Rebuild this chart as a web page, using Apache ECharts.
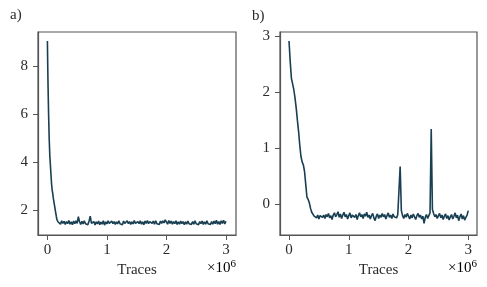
<!DOCTYPE html>
<html><head><meta charset="utf-8">
<script src="https://cdn.jsdelivr.net/npm/echarts@6/dist/echarts.min.js"></script>
<style>html,body{margin:0;padding:0;background:#fff}#c{width:487px;height:287px}</style>
</head><body><div id="c"></div>
<script>
// x in units of 10^6 traces
const xTicks = [0, 1, 2, 3];
const yTicksA = [2, 4, 6, 8];
const yTicksB = [0, 1, 2, 3];

const xA = [0,0.005,0.01,0.02,0.03,0.04,0.05,0.06,0.07,0.08,0.09,0.10,0.11,0.12,0.13,0.14,0.15,0.16,0.17,0.18,
0.20,0.22,0.24,0.26,0.28,0.30,0.32,0.34,0.36,0.38,0.40,0.42,0.44,0.46,0.48,0.50,0.52,0.54,0.56,0.58,
0.60,0.62,0.64,0.66,0.68,0.70,0.72,0.74,0.76,0.78,0.80,0.82,0.84,0.86,0.88,0.90,0.92,0.94,0.96,0.98,
1.00,1.02,1.04,1.06,1.08,1.10,1.12,1.14,1.16,1.18,1.20,1.22,1.24,1.26,1.28,1.30,1.32,1.34,1.36,1.38,
1.40,1.42,1.44,1.46,1.48,1.50,1.52,1.54,1.56,1.58,1.60,1.62,1.64,1.66,1.68,1.70,1.72,1.74,1.76,1.78,
1.80,1.82,1.84,1.86,1.88,1.90,1.92,1.94,1.96,1.98,2.00,2.02,2.04,2.06,2.08,2.10,2.12,2.14,2.16,2.18,
2.20,2.22,2.24,2.26,2.28,2.30,2.32,2.34,2.36,2.38,2.40,2.42,2.44,2.46,2.48,2.50,2.52,2.54,2.56,2.58,
2.60,2.62,2.64,2.66,2.68,2.70,2.72,2.74,2.76,2.78,2.80,2.82,2.84,2.86,2.88,2.90,2.92,2.94,2.96,2.98,3.00];
const yA = [9.05,8.1,7.3,6.0,5.0,4.3,3.9,3.5,3.1,2.85,2.7,2.5,2.35,2.2,2.05,1.9,1.75,1.62,1.55,1.52,
1.50,1.43,1.57,1.46,1.55,1.42,1.54,1.45,1.58,1.43,1.53,1.41,1.56,1.45,1.57,1.46,1.74,1.53,1.42,1.55,
1.44,1.57,1.45,1.53,1.41,1.56,1.76,1.46,1.42,1.54,1.40,1.53,1.44,1.56,1.41,1.52,1.43,1.57,1.39,1.53,
1.44,1.57,1.46,1.42,1.56,1.45,1.54,1.42,1.53,1.44,1.57,1.45,1.53,1.41,1.56,1.46,1.43,1.57,1.45,1.54,
1.42,1.53,1.44,1.58,1.46,1.42,1.54,1.45,1.57,1.43,1.53,1.41,1.56,1.46,1.58,1.45,1.54,1.59,1.46,1.56,
1.43,1.57,1.45,1.53,1.42,1.56,1.46,1.57,1.48,1.61,1.54,1.43,1.58,1.46,1.56,1.43,1.54,1.45,1.57,1.42,
1.53,1.43,1.56,1.45,1.54,1.41,1.53,1.43,1.56,1.45,1.53,1.42,1.54,1.43,1.57,1.45,1.53,1.41,1.54,1.45,
1.56,1.42,1.53,1.43,1.57,1.45,1.53,1.42,1.54,1.43,1.56,1.45,1.59,1.43,1.54,1.42,1.57,1.46,1.59,1.44,1.55];

const xB = [0,0.02,0.04,0.06,0.08,0.10,0.12,0.14,0.16,0.18,0.20,0.22,0.24,0.26,0.28,0.30,0.32,0.34,0.36,0.38,
0.40,0.42,0.44,0.46,0.48,0.50,0.52,0.54,0.56,0.58,0.60,0.62,0.64,0.66,0.68,0.70,0.72,0.74,0.76,0.78,
0.80,0.82,0.84,0.86,0.88,0.90,0.92,0.94,0.96,0.98,1.00,1.02,1.04,1.06,1.08,1.10,1.12,1.14,1.16,1.18,
1.20,1.22,1.24,1.26,1.28,1.30,1.32,1.34,1.36,1.38,1.40,1.42,1.44,1.46,1.48,1.50,1.52,1.54,1.56,1.58,
1.60,1.62,1.64,1.66,1.68,1.70,1.72,1.74,1.76,1.78,1.80,1.82,1.84,1.86,1.88,1.90,1.92,1.94,1.96,1.98,
2.00,2.02,2.04,2.06,2.08,2.10,2.12,2.14,2.16,2.18,2.20,2.22,2.24,2.26,2.28,2.30,2.32,2.34,2.36,2.38,
2.40,2.42,2.44,2.46,2.48,2.50,2.52,2.54,2.56,2.58,2.60,2.62,2.64,2.66,2.68,2.70,2.72,2.74,2.76,2.78,
2.80,2.82,2.84,2.86,2.88,2.90,2.92,2.94,2.96,2.98,3.00];
const yB = [2.92,2.55,2.25,2.15,2.05,1.90,1.72,1.50,1.30,1.05,0.85,0.75,0.70,0.58,0.35,0.12,0.08,0.02,-0.08,-0.15,
-0.17,-0.22,-0.19,-0.25,-0.20,-0.27,-0.21,-0.18,-0.24,-0.20,-0.26,-0.19,-0.23,-0.17,-0.25,-0.21,-0.28,-0.20,-0.16,-0.23,
-0.19,-0.14,-0.24,-0.18,-0.26,-0.20,-0.15,-0.23,-0.19,-0.27,-0.21,-0.16,-0.25,-0.20,-0.17,-0.24,-0.19,-0.28,-0.21,-0.16,
-0.23,-0.19,-0.26,-0.18,-0.22,-0.15,-0.24,-0.20,-0.27,-0.21,-0.17,-0.25,-0.30,-0.22,-0.18,-0.26,-0.20,-0.24,-0.17,-0.23,
-0.19,-0.27,-0.21,-0.16,-0.24,-0.20,-0.26,-0.18,-0.23,-0.20,-0.25,-0.19,-0.22,0.67,-0.12,-0.21,-0.26,-0.19,-0.24,-0.17,
-0.22,-0.27,-0.20,-0.25,-0.18,-0.23,-0.28,-0.21,-0.17,-0.24,-0.20,-0.27,-0.22,-0.35,-0.24,-0.19,-0.26,-0.21,-0.16,1.34,
-0.10,-0.17,-0.23,-0.19,-0.26,-0.21,-0.17,-0.25,-0.20,-0.28,-0.22,-0.18,-0.26,-0.21,-0.29,-0.23,-0.19,-0.27,-0.22,-0.16,
-0.25,-0.20,-0.30,-0.23,-0.18,-0.27,-0.21,-0.29,-0.24,-0.20,-0.12];

const xName = 'Traces';
const panelLabels = ['a)', 'b)'];

const FONT = 'Liberation Serif';
const TXT = '#2b2b2b';
const AX = '#555555';
const LINE = '#183f52';
const FS = 15;

function pair(xs, ys) { return xs.map((x, i) => [x, ys[i]]); }

function xAxis(idx, min, max) {
  return {
    type: 'value', gridIndex: idx, min: min, max: max,
    name: xName, nameLocation: 'middle', nameGap: 26,
    nameTextStyle: { fontFamily: FONT, fontSize: FS, color: TXT },
    axisLine: { show: true, onZero: false, lineStyle: { color: AX, width: 1.2 } },
    axisTick: { show: true, length: 5, customValues: xTicks, lineStyle: { color: AX, width: 1 } },
    axisLabel: { customValues: xTicks, margin: 8, fontFamily: FONT, fontSize: FS, color: TXT },
    splitLine: { show: false }
  };
}
function yAxis(idx, min, max, ticks) {
  return {
    type: 'value', gridIndex: idx, min: min, max: max,
    axisLine: { show: true, onZero: false, lineStyle: { color: AX, width: 1.2 } },
    axisTick: { show: true, length: 5, customValues: ticks, lineStyle: { color: AX, width: 1 } },
    axisLabel: { customValues: ticks, margin: 10, fontFamily: FONT, fontSize: FS, color: TXT },
    splitLine: { show: false }
  };
}

const rich = { a: { fontFamily: FONT, fontSize: FS, color: TXT }, s: { fontFamily: FONT, fontSize: 11, color: TXT, verticalAlign: 'top', padding: [0, 0, 8, 0] } };

const chart = echarts.init(document.getElementById('c'), null, { renderer: 'canvas' });
chart.setOption({
  animation: false,
  backgroundColor: '#fff',
  grid: [
    { left: 38, top: 32, width: 198, height: 203, show: true, borderColor: AX, borderWidth: 1.2, backgroundColor: 'transparent' },
    { left: 280, top: 32, width: 197, height: 203, show: true, borderColor: AX, borderWidth: 1.2, backgroundColor: 'transparent' }
  ],
  xAxis: [xAxis(0, -0.158, 3.169), xAxis(1, -0.151, 3.146)],
  yAxis: [yAxis(0, 0.98, 9.42, yTicksA), yAxis(1, -0.557, 3.08, yTicksB)],
  series: [
    { type: 'line', xAxisIndex: 0, yAxisIndex: 0, data: pair(xA, yA), showSymbol: false, lineStyle: { color: LINE, width: 1.6 } },
    { type: 'line', xAxisIndex: 1, yAxisIndex: 1, data: pair(xB, yB), showSymbol: false, lineStyle: { color: LINE, width: 1.6 } }
  ],
  graphic: [
    { type: 'text', left: 10, top: 8, style: { text: panelLabels[0], font: FS + 'px "' + FONT + '"', fill: TXT } },
    { type: 'text', left: 252, top: 9, style: { text: panelLabels[1], font: FS + 'px "' + FONT + '"', fill: TXT } },
    { type: 'text', right: 487 - 236, top: 259, style: { text: '{a|×10}{s|6}', rich: rich } },
    { type: 'text', right: 487 - 477, top: 259, style: { text: '{a|×10}{s|6}', rich: rich } }
  ]
});
</script></body></html>
